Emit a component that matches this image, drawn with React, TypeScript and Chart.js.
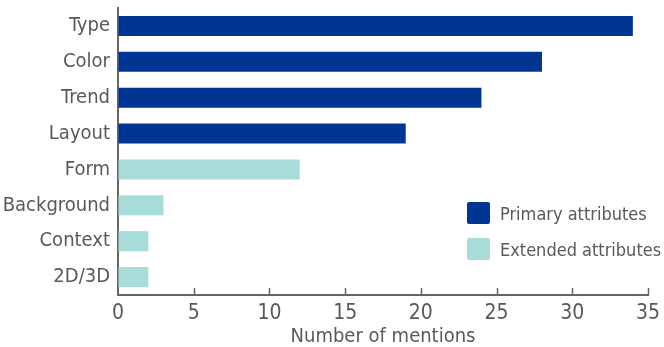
import React, { useEffect, useRef } from "react";
import { Chart, registerables } from "chart.js";

Chart.register(...registerables);

const categories = ["Type", "Color", "Trend", "Layout", "Form", "Background", "Context", "2D/3D"];
const primaryValues = [34, 28, 24, 19, null, null, null, null];
const extendedValues = [null, null, null, null, 12, 3, 2, 2];
const xTicks = [0, 5, 10, 15, 20, 25, 30, 35];
const seriesNames = ["Primary attributes", "Extended attributes"];
const colors = ["#003594", "#a8dcd8"];
const textColor = "#595959";
const axisColor = "#666666";
const fontFamily = "'DejaVu Sans Condensed', 'DejaVu Sans', Verdana, sans-serif";

const upTicksPlugin = {
  id: "upTicks",
  afterDraw(chart: any) {
    const x = chart.scales.x;
    const ctx = chart.ctx;
    const yPix = chart.chartArea.bottom;
    ctx.save();
    ctx.strokeStyle = axisColor;
    ctx.lineWidth = 1.5;
    xTicks.forEach((v) => {
      if (v === 0) return;
      const px = Math.round(x.getPixelForValue(v)) + 0.5;
      ctx.beginPath();
      ctx.moveTo(px, yPix);
      ctx.lineTo(px, yPix - 7);
      ctx.stroke();
    });
    ctx.restore();
  },
};

export default function App() {
  const ref = useRef<HTMLCanvasElement>(null);
  useEffect(() => {
    if (!ref.current) return;
    const chart = new Chart(ref.current, {
      type: "bar",
      data: {
        labels: categories,
        datasets: [
          { label: seriesNames[0], data: primaryValues as any, backgroundColor: colors[0], categoryPercentage: 1, barPercentage: 0.56 },
          { label: seriesNames[1], data: extendedValues as any, backgroundColor: colors[1], categoryPercentage: 1, barPercentage: 0.56 },
        ],
      },
      options: {
        indexAxis: "y",
        animation: false,
        responsive: false,
        maintainAspectRatio: false,
        layout: { padding: { left: 0, right: 16, top: 8, bottom: 0 } },
        plugins: { legend: { display: false }, tooltip: { enabled: false } },
        scales: {
          x: {
            min: 0,
            max: 35,
            afterBuildTicks: (axis: any) => {
              axis.ticks = xTicks.map((v) => ({ value: v }));
            },
            afterFit: (s: any) => {
              s.height = 52;
              s.paddingLeft = 0;
              s.paddingRight = 0;
            },
            grid: { display: true, drawOnChartArea: false, drawTicks: false, tickLength: 0 },
            border: { display: true, color: axisColor, width: 2 },
            ticks: { color: textColor, font: { family: fontFamily, size: 21, lineHeight: 1 }, padding: 8, maxRotation: 0 },
            title: {
              display: true,
              text: "Number of mentions",
              color: textColor,
              font: { family: fontFamily, size: 20 },
              padding: { top: 0, bottom: -2 },
            },
          },
          y: {
            stacked: true,
            offset: true,
            afterFit: (s: any) => {
              s.width = 118;
              s.paddingTop = 0;
              s.paddingBottom = 0;
            },
            grid: { display: true, drawOnChartArea: false, drawTicks: false, tickLength: 0 },
            border: { display: true, color: axisColor, width: 2 },
            ticks: { color: textColor, font: { family: fontFamily, size: 20 }, padding: 8 },
          },
        },
      },
      plugins: [upTicksPlugin],
    });
    return () => chart.destroy();
  }, []);

  const legendItem = (i: number, top: number) => (
    <div style={{ position: "absolute", left: 467, top, display: "flex", alignItems: "center" }}>
      <div style={{ width: 23, height: 22, background: colors[i], borderRadius: 2 }} />
      <span style={{ marginLeft: 10, fontFamily, fontSize: 18, color: textColor, whiteSpace: "nowrap" }}>{seriesNames[i]}</span>
    </div>
  );

  return (
    <div style={{ position: "fixed", left: 0, top: 0, width: 664, height: 347, background: "#fff" }}>
      <canvas ref={ref} width={664} height={347} style={{ width: 664, height: 347 }} />
      {legendItem(0, 202)}
      {legendItem(1, 238)}
    </div>
  );
}
